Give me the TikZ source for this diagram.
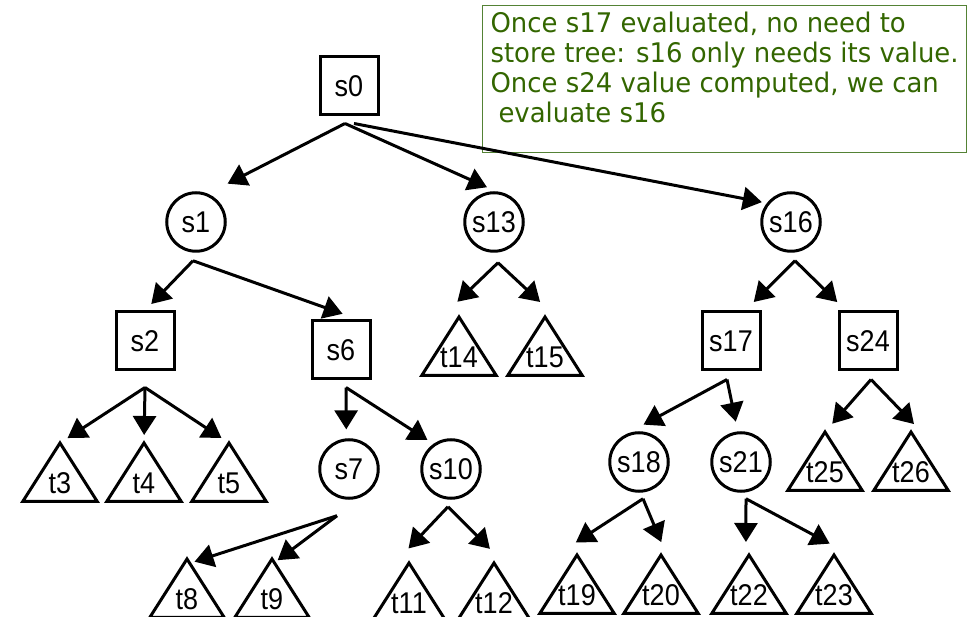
\documentclass[tikz,border=0pt]{standalone}
\usepackage{fontspec}
\setmainfont[FakeStretch=0.9]{Liberation Sans}
\newfontfamily\notefont[FakeStretch=0.96]{DejaVu Sans}
\usetikzlibrary{arrows.meta}
\definecolor{notegreen}{RGB}{51,102,0}
\definecolor{noteline}{RGB}{84,130,53}
\begin{document}
\begin{tikzpicture}[x=1pt,y=-1pt,
    every node/.style={font=\fontsize{30}{34}\selectfont},
    maxnode/.style={draw,line width=3pt,minimum size=58pt,inner sep=0pt},
    minnode/.style={draw,circle,line width=3pt,minimum size=58.5pt,inner sep=0pt},
    leaf/.style={anchor=north,minimum width=74pt,inner sep=0pt,text height=50pt,text depth=8pt},
    subtree/.style={line width=3pt},
    arr/.style={line width=3pt,-{Triangle[length=19pt,width=23pt]}}]
  \useasboundingbox (0,0) rectangle (967,617);
  % the note in the upper right corner
  \node [draw=noteline,line width=1.2pt,anchor=north west,minimum width=484pt,inner sep=0pt,
         align=left,text=notegreen,font=\notefont\fontsize{27}{30}\selectfont] (note) at (482,5)
    {\rule{0pt}{27pt}Once s17 evaluated, no need to\\
     store tree: s16 only needs its value.\\
     Once s24 value computed, we can\\
     \hspace*{8pt}evaluate s16\rule[-30pt]{0pt}{30pt}};
  % inner nodes
  \node [maxnode] (s0) at (349,86) {s0};
  \node [minnode] (s1) at (196,222) {s1};
  \node [minnode] (s13) at (494,222) {s13};
  \node [minnode] (s16) at (791,222) {s16};
  \node [maxnode] (s2) at (145,341) {s2};
  \node [maxnode] (s6) at (341,350) {s6};
  \node [maxnode] (s17) at (731,341) {s17};
  \node [maxnode] (s24) at (868,341) {s24};
  \node [minnode] (s7) at (349,469) {s7};
  \node [minnode] (s10) at (451,469) {s10};
  \node [minnode] (s18) at (639,462) {s18};
  \node [minnode] (s21) at (741,462) {s21};
  % subtrees
  \foreach \n/\x/\y in {t3/60/443, t4/144/443, t5/229/443, t8/187/559, t9/272/559,
      t11/409/563, t12/494/563, t14/459/317, t15/545/317, t19/577/555, t20/661/555,
      t22/749/555, t23/834/555, t25/825/432, t26/911/432}
  {
    \node [leaf] (\n) at (\x,\y) {\n};
    \draw [subtree] (\n.north) -- (\n.south east) -- (\n.south west) -- cycle;
  }
  % moves
  \draw [arr,shorten >=22pt] ([xshift=-4pt,yshift=-7pt]s0.south) -- (s1.67);
  \draw [arr,shorten >=10pt] ([xshift=-4pt,yshift=-7pt]s0.south) -- (s13.86);
  \draw [arr,shorten >=5pt] ([xshift=5pt,yshift=-7pt]s0.south) -- (s16.142);
  \draw [arr,shorten >=9pt] ([xshift=-3pt,yshift=-8pt]s1.south) -- (s2.north);
  \draw [arr,shorten >=17pt] ([xshift=-3pt,yshift=-8pt]s1.south) -- (s6.60);
  \draw [arr,shorten >=9pt] ([yshift=-16pt]s2.south) -- (t3.north);
  \draw [arr,shorten >=8pt] ([yshift=-16pt]s2.south) -- (t4.north);
  \draw [arr,shorten >=9pt] ([yshift=-16pt]s2.south) -- (t5.north);
  \draw [arr,shorten >=9pt] ([xshift=5pt,yshift=-7pt]s6.south) -- (s7.95);
  \draw [arr,shorten >=7pt] ([xshift=5pt,yshift=-7pt]s6.south) -- (s10.125);
  \draw [arr,shorten >=47pt] ([xshift=-12pt,yshift=-16pt]s7.south) -- (t8.162);
  \draw [arr,shorten >=-2pt] ([xshift=-12pt,yshift=-16pt]s7.south) -- (t9.76);
  \draw [arr,shorten >=20pt] ([xshift=-3pt,yshift=-7pt]s10.south) -- (t11.116);
  \draw [arr,shorten >=20pt] ([xshift=-3pt,yshift=-7pt]s10.south) -- (t12.71);
  \draw [arr,shorten >=22pt] ([xshift=4pt,yshift=-10pt]s13.south) -- (t14.121);
  \draw [arr,shorten >=22pt] ([xshift=4pt,yshift=-10pt]s13.south) -- (t15.69);
  \draw [arr,shorten >=12pt] ([xshift=4pt,yshift=-8pt]s16.south) -- (s17.65);
  \draw [arr,shorten >=12pt] ([xshift=4pt,yshift=-8pt]s16.south) -- (s24.126);
  \draw [arr,shorten >=21pt] ([xshift=-4pt,yshift=-8pt]s17.south) -- (s18.117);
  \draw [arr,shorten >=10pt] ([xshift=-4pt,yshift=-8pt]s17.south) -- (s21.96);
  \draw [arr,shorten >=11pt] ([xshift=3pt,yshift=-8pt]s24.south) -- (t25.north);
  \draw [arr,shorten >=11pt] ([xshift=3pt,yshift=-8pt]s24.south) -- (t26.70);
  \draw [arr,shorten >=23pt] ([xshift=4pt,yshift=-6pt]s18.south) -- (t19.125);
  \draw [arr,shorten >=14pt] ([xshift=4pt,yshift=-6pt]s18.south) -- (t20.79);
  \draw [arr,shorten >=13pt] ([xshift=5pt,yshift=-6pt]s21.south) -- (t22.96);
  \draw [arr,shorten >=24pt] ([xshift=5pt,yshift=-6pt]s21.south) -- (t23.60);
\end{tikzpicture}
\end{document}
